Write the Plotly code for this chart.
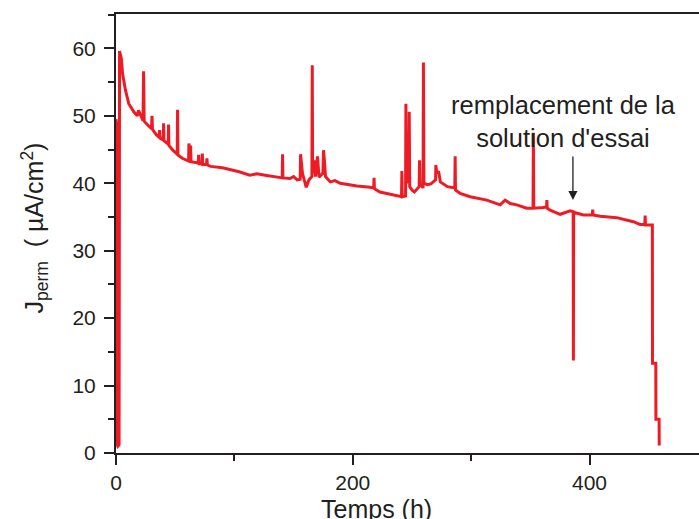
import plotly.graph_objects as go

# Time (h) and permeation current density J_perm (uA/cm2)
t_h = [0.0, 0.4, 0.6, 1.5, 2.6, 3.0, 4.5, 5.5, 8.0, 10.8, 15.0, 18.0, 19.0, 20.5, 22.8,
       23.3, 23.8, 27.0, 30.0, 30.4, 30.8, 34.0, 36.5, 36.8, 37.2, 39.9, 40.2, 40.5,
       44.1, 44.4, 44.7, 48.0, 51.7, 52.0, 52.3, 56.0, 61.3, 61.6, 62.3, 63.0, 63.4,
       69.5, 69.8, 70.2, 72.6, 72.9, 73.3, 76.5, 76.8, 77.2, 80.0, 90.0, 97.0, 104.0,
       113.0, 119.0, 126.0, 133.0, 140.4, 140.7, 141.0, 147.0, 150.0, 153.0, 155.6,
       155.9, 156.8, 157.5, 160.7, 163.0, 165.5, 165.8, 166.1, 167.5, 168.5, 170.2,
       171.5, 174.8, 175.3, 176.0, 177.0, 181.0, 185.0, 189.4, 203.5, 214.7, 217.7,
       218.0, 218.3, 223.0, 228.8, 236.0, 241.2, 241.5, 241.8, 244.6, 244.9, 245.3,
       247.4, 247.7, 248.1, 250.0, 252.0, 256.1, 256.4, 256.8, 259.4, 259.7, 260.1,
       263.0, 266.0, 270.0, 270.2, 271.0, 272.5, 274.0, 277.0, 280.0, 286.2, 286.5,
       286.8, 290.7, 299.2, 313.3, 324.5, 328.7, 333.0, 338.6, 347.0, 352.3, 352.6,
       352.9, 361.0, 363.7, 364.0, 364.3, 366.7, 375.2, 383.8, 386.2, 386.4, 386.6,
       394.8, 402.4, 402.7, 403.0, 409.0, 423.0, 437.0, 442.7, 446.7, 447.0, 447.3,
       452.8, 453.1, 453.2, 456.0, 456.1, 458.8, 458.9]
j_ua = [49.5, 49.0, 1.5, 1.0, 1.2, 59.6, 58.5, 56.3, 53.8, 51.8, 50.6, 50.0, 50.8, 50.2, 49.3,
        56.6, 49.2, 48.6, 48.1, 50.0, 48.0, 47.2, 46.8, 47.9, 46.7, 46.4, 48.9, 46.3,
        45.8, 48.7, 45.6, 44.9, 44.3, 50.9, 44.2, 43.7, 43.3, 45.9, 44.8, 45.6, 43.2,
        43.0, 44.2, 42.9, 42.9, 44.4, 42.8, 42.8, 43.7, 42.7, 42.5, 42.3, 42.0, 41.7,
        41.2, 41.4, 41.2, 41.0, 40.8, 44.3, 40.8, 40.7, 41.0, 40.5, 40.6,
        44.3, 43.0, 41.5, 39.4, 40.5, 41.0, 57.5, 41.5, 43.4, 41.0, 44.0,
        40.9, 41.5, 44.9, 43.5, 41.0, 40.2, 40.4, 40.0, 39.6, 39.4, 39.3,
        40.8, 39.2, 38.7, 38.5, 38.2, 38.0, 41.8, 38.0, 38.1, 51.8, 40.0,
        41.0, 50.6, 39.5, 39.0, 38.7, 39.5, 43.4, 40.0, 39.3, 57.9, 40.0,
        39.8, 39.9, 40.5, 42.7, 41.5, 41.8, 40.2, 39.9, 39.5, 39.3, 44.0,
        39.0, 38.5, 38.0, 37.5, 36.8, 37.5, 37.0, 36.8, 36.3, 36.3, 47.5,
        36.3, 36.4, 36.5, 37.5, 36.3, 36.0, 35.4, 35.9, 35.8, 13.7, 35.7,
        35.3, 35.3, 36.1, 35.3, 35.1, 34.9, 34.3, 33.9, 33.9, 35.2, 33.8,
        33.8, 33.8, 13.3, 13.3, 5.0, 5.0, 1.1]

x_ticks = [0, 200, 400]
y_ticks = [0, 10, 20, 30, 40, 50, 60]
annot_text = "remplacement de la<br>solution d'essai"
arrow_t = 386
arrow_tip_j = 37.5
arrow_tail_j = 44.2

FONT = "Liberation Sans, Arial, sans-serif"
INK = "#231F20"

fig = go.Figure()
fig.add_trace(go.Scatter(x=t_h, y=j_ua, mode="lines",
                         line=dict(color="#ED1C24", width=3), showlegend=False))

fig.update_layout(
    width=699, height=519,
    margin=dict(l=116, r=0, t=14, b=66),
    paper_bgcolor="white", plot_bgcolor="white",
    font=dict(family=FONT, color=INK, size=21),
)
fig.update_xaxes(range=[0, 492.5], tickvals=x_ticks, ticks="outside", ticklen=10, tickwidth=1.8,
                 tickcolor=INK, showline=True, linecolor=INK, linewidth=2, mirror=True,
                 showgrid=False, zeroline=False, tickfont=dict(size=21),
                 minor=dict(dtick=100, tick0=0, ticks="outside", ticklen=6, tickwidth=1.8, tickcolor=INK))
fig.update_yaxes(range=[0, 65.1], tickvals=y_ticks, ticks="outside", ticklen=10, tickwidth=1.8,
                 tickcolor=INK, showline=True, linecolor=INK, linewidth=2, mirror=False,
                 showgrid=False, zeroline=False, tickfont=dict(size=21), ticklabelstandoff=4,
                 minor=dict(dtick=5, tick0=0, ticks="outside", ticklen=6, tickwidth=1.8, tickcolor=INK))

# axis titles
fig.add_annotation(text="Temps (h)", xref="x", yref="paper", x=220.4, y=0, yanchor="middle",
                   yshift=-56, showarrow=False, font=dict(size=25, family=FONT, color=INK))
fig.add_annotation(text="J<sub>perm</sub>  ( µA/cm<sup>2</sup>)", xref="paper", yref="paper",
                   x=0, y=0.5, xanchor="center", yanchor="middle", xshift=-82, yshift=5,
                   textangle=-90, showarrow=False, font=dict(size=25, family=FONT, color=INK))

# annotation text and arrow
fig.add_annotation(text=annot_text, xref="x", yref="y", x=378, y=49.2, showarrow=False,
                   align="center", font=dict(size=25.5, family=FONT, color=INK))
fig.add_annotation(x=arrow_t, y=arrow_tip_j, ax=arrow_t, ay=arrow_tail_j, xref="x", yref="y",
                   axref="x", ayref="y", text="", showarrow=True, arrowhead=2, arrowsize=1.4,
                   arrowwidth=1.3, arrowcolor=INK)

fig.write_html("out.html")
